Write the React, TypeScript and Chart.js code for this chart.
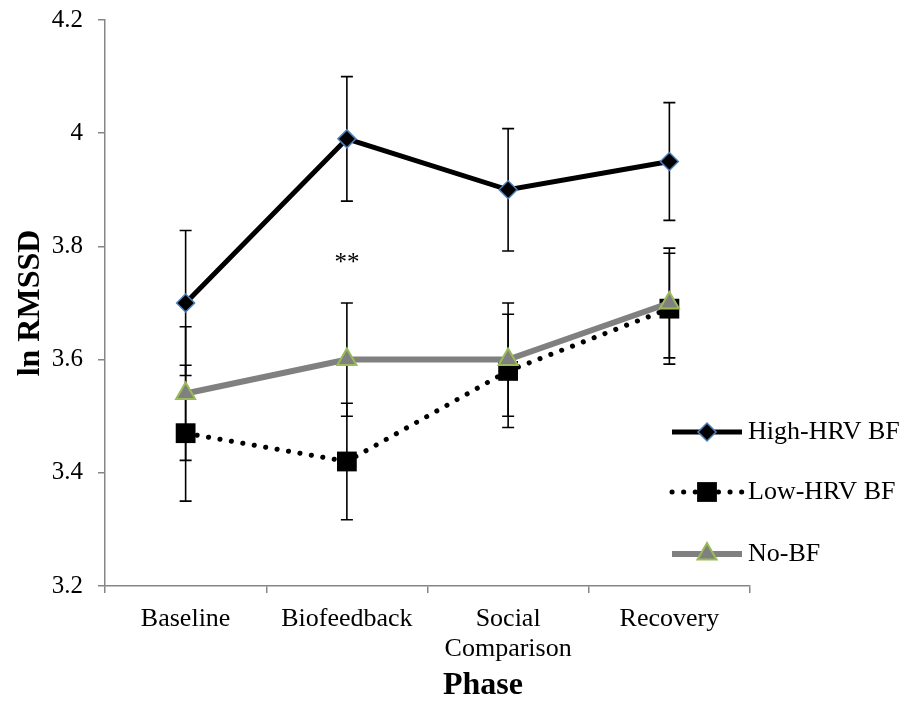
import React, { useEffect, useRef } from "react";
import { Chart, registerables } from "chart.js";

Chart.register(...registerables);

// ---- data ----
const phases: (string | string[])[] = ["Baseline", "Biofeedback", ["Social", "Comparison"], "Recovery"];
const seriesNames = ["High-HRV BF", "Low-HRV BF", "No-BF"];
const highHRV = [3.7, 3.99, 3.9, 3.95];
const highErr = [0.128, 0.11, 0.108, 0.104];
const lowHRV = [3.47, 3.42, 3.58, 3.69];
const lowErr = [0.12, 0.103, 0.1, 0.098];
const noBF = [3.54, 3.6, 3.6, 3.7];
const noErr = [0.118, 0.1, 0.1, 0.097];
const yMin = 3.2;
const yMax = 4.2;
const yStep = 0.2;
const xTitle = "Phase";
const yTitle = "ln RMSSD";
const sigText = ["**"];
const sigIndex = [1];
const sigValue = [3.77];

const serif = "'Liberation Serif', 'Times New Roman', serif";
const AXIS = "#868686";

const errorBarPlugin = {
  id: "errorBars",
  beforeDatasetsDraw(chart: any) {
    const ctx = chart.ctx;
    const xs = chart.scales.x;
    const ys = chart.scales.y;
    ctx.save();
    ctx.strokeStyle = "#000";
    ctx.lineWidth = 1.6;
    chart.data.datasets.forEach((ds: any) => {
      const errs: number[] = ds.errors || [];
      ds.data.forEach((v: number, i: number) => {
        const e = errs[i];
        if (e == null) return;
        const x = xs.getPixelForValue(i);
        const yt = ys.getPixelForValue(v + e);
        const yb = ys.getPixelForValue(v - e);
        ctx.beginPath();
        ctx.moveTo(x, yt);
        ctx.lineTo(x, yb);
        ctx.moveTo(x - 6, yt);
        ctx.lineTo(x + 6, yt);
        ctx.moveTo(x - 6, yb);
        ctx.lineTo(x + 6, yb);
        ctx.stroke();
      });
    });
    ctx.restore();
  },
};

const textPlugin = {
  id: "extraText",
  afterDatasetsDraw(chart: any) {
    const ctx = chart.ctx;
    const xs = chart.scales.x;
    const ys = chart.scales.y;
    ctx.save();
    ctx.fillStyle = "#000";
    ctx.font = `25px ${serif}`;
    ctx.textAlign = "center";
    ctx.textBaseline = "middle";
    sigText.forEach((t, k) => {
      ctx.fillText(t, xs.getPixelForValue(sigIndex[k]), ys.getPixelForValue(sigValue[k]));
    });
    ctx.font = `bold 32px ${serif}`;
    ctx.fillText(xTitle, 483, 686);
    ctx.restore();
  },
};

function drawMarker(ctx: CanvasRenderingContext2D, style: string, x: number, y: number, r: number, fill: string, stroke: string, bw: number) {
  ctx.beginPath();
  if (style === "rectRot") {
    ctx.moveTo(x, y - r);
    ctx.lineTo(x + r, y);
    ctx.lineTo(x, y + r);
    ctx.lineTo(x - r, y);
    ctx.closePath();
  } else if (style === "rect") {
    const s = r * Math.SQRT1_2;
    ctx.rect(x - s, y - s, 2 * s, 2 * s);
  } else {
    ctx.moveTo(x, y - r);
    ctx.lineTo(x + r * Math.sin(Math.PI * 2 / 3), y - r * Math.cos(Math.PI * 2 / 3));
    ctx.lineTo(x + r * Math.sin(Math.PI * 4 / 3), y - r * Math.cos(Math.PI * 4 / 3));
    ctx.closePath();
  }
  ctx.fillStyle = fill;
  ctx.fill();
  if (bw > 0) {
    ctx.strokeStyle = stroke;
    ctx.lineWidth = bw;
    ctx.stroke();
  }
}

const legendPlugin = {
  id: "customLegend",
  afterDraw(chart: any) {
    const ctx = chart.ctx;
    const ys = [432, 492, 554];
    const x0 = 672;
    const x1 = 742;
    const xm = 707;
    const order = [2, 1, 0];
    ctx.save();
    order.forEach((di, k) => {
      const ds = chart.data.datasets[di];
      const y = ys[k];
      ctx.beginPath();
      ctx.strokeStyle = ds.borderColor;
      ctx.lineWidth = ds.borderWidth;
      ctx.lineCap = ds.borderCapStyle || "butt";
      ctx.setLineDash(ds.borderDash || []);
      ctx.moveTo(x0, y);
      ctx.lineTo(x1, y);
      ctx.stroke();
      ctx.setLineDash([]);
      drawMarker(ctx, ds.pointStyle, xm, y, ds.pointRadius, ds.pointBackgroundColor, ds.pointBorderColor, ds.pointBorderWidth);
      ctx.fillStyle = "#000";
      ctx.font = `26px ${serif}`;
      ctx.textAlign = "left";
      ctx.textBaseline = "middle";
      ctx.fillText(ds.label, 748, y);
    });
    ctx.restore();
  },
};

export default function App() {
  const ref = useRef<HTMLCanvasElement | null>(null);
  useEffect(() => {
    if (!ref.current) return;
    const chart = new Chart(ref.current, {
      type: "line",
      data: {
        labels: phases as any,
        datasets: [
          {
            label: seriesNames[2],
            data: noBF,
            errors: noErr,
            borderColor: "#808080",
            borderWidth: 6,
            pointStyle: "triangle",
            pointRadius: 11,
            pointBackgroundColor: "#808080",
            pointBorderColor: "#9BBB59",
            pointBorderWidth: 2,
            tension: 0,
          } as any,
          {
            label: seriesNames[1],
            data: lowHRV,
            errors: lowErr,
            borderColor: "#000000",
            borderWidth: 5,
            borderDash: [0.1, 11.5],
            borderCapStyle: "round",
            pointStyle: "rect",
            pointRadius: 14,
            pointBackgroundColor: "#000000",
            pointBorderColor: "#000000",
            pointBorderWidth: 0,
            tension: 0,
          } as any,
          {
            label: seriesNames[0],
            data: highHRV,
            errors: highErr,
            borderColor: "#000000",
            borderWidth: 5,
            pointStyle: "rectRot",
            pointRadius: 9,
            pointBackgroundColor: "#000000",
            pointBorderColor: "#4F81BD",
            pointBorderWidth: 1.5,
            tension: 0,
          } as any,
        ],
      },
      options: {
        responsive: false,
        animation: false,
        events: [],
        layout: { padding: { top: 20, right: 156, left: 0, bottom: 0 } },
        plugins: { legend: { display: false }, tooltip: { enabled: false } },
        scales: {
          x: {
            type: "category",
            offset: true,
            grid: { offset: true, drawOnChartArea: false, drawTicks: true, tickLength: 7, color: AXIS, lineWidth: 1.5 },
            border: { color: AXIS, width: 1.5 },
            ticks: { color: "#000", font: { family: serif, size: 26, lineHeight: 1.12 }, padding: 12, maxRotation: 0, autoSkip: false },
            title: { display: false },
            afterFit(scale: any) { scale.height = 116; },
          },
          y: {
            min: yMin,
            max: yMax,
            ticks: {
              stepSize: yStep,
              color: "#000",
              font: { family: serif, size: 25 },
              padding: 15,
              callback: (v: any) => String(Math.round(Number(v) * 10) / 10),
            },
            grid: { drawOnChartArea: false, drawTicks: true, tickLength: 7, color: AXIS, lineWidth: 1.5 },
            border: { color: AXIS, width: 1.5 },
            title: { display: true, text: yTitle, color: "#000", font: { family: serif, size: 32, weight: "bold", lineHeight: 1.2 }, padding: { top: 12, bottom: 0 } },
            afterFit(scale: any) {
              scale.width = 105;
              scale.paddingTop = 0;
              scale.paddingBottom = 0;
            },
          },
        },
      } as any,
      plugins: [errorBarPlugin, textPlugin, legendPlugin],
    });
    return () => chart.destroy();
  }, []);
  return (
    <div style={{ position: "absolute", left: 0, top: 0, width: 906, height: 702 }}>
      <canvas ref={ref} width={906} height={702} />
    </div>
  );
}
